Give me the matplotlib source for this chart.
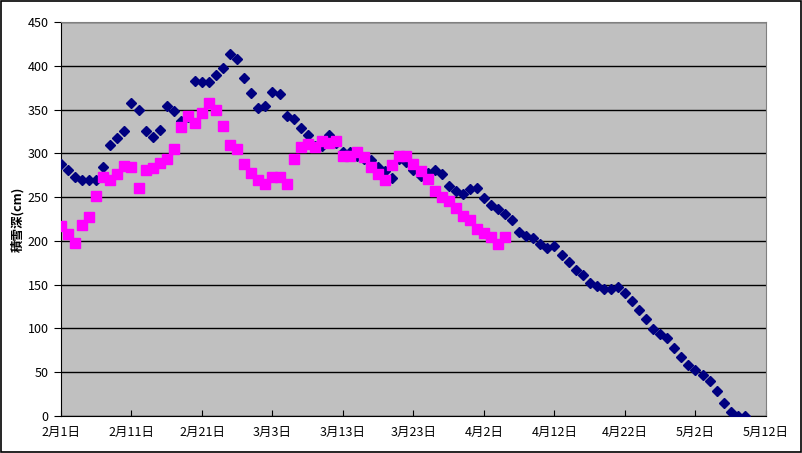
import matplotlib
matplotlib.use("Agg")
import numpy as np
import pandas as pd
from matplotlib import pyplot as plt
from matplotlib.patches import Rectangle
import matplotlib.dates as mdates
from matplotlib.ticker import FuncFormatter, MultipleLocator

plt.rcParams['font.family'] = ['Noto Sans CJK JP', 'DejaVu Sans']

# Data: snow depth (cm), daily from Feb 1
start = pd.Timestamp('2006-02-01')
navy_vals = [288, 281, 273, 270, 270, 269, 284, 310, 318, 326,
             357, 350, 325, 319, 327, 354, 348, 337, 342, 383,
             382, 381, 390, 397, 414, 408, 386, 369, 352, 354,
             370, 368, 343, 339, 329, 321, 308, 308, 321, 312,
             301, 302, 297, 294, 292, 284, 280, 272, 293, 290,
             281, 274, 277, 281, 276, 263, 257, 254, 259, 260,
             249, 241, 236, 231, 224, 210, 206, 203, 196, 192,
             194, 184, 176, 167, 161, 152, 148, 145, 145, 147,
             141, 131, 121, 111, 99, 94, 89, 78, 67, 58,
             52, 47, 40, 28, 15, 4, 0, 0]
pink_vals = [217, 208, 198, 218, 227, 251, 273, 270, 276, 286,
             284, 260, 281, 283, 289, 294, 305, 330, 343, 335,
             346, 357, 349, 331, 310, 305, 288, 278, 270, 265,
             273, 273, 265, 293, 307, 311, 307, 314, 312, 314,
             297, 297, 302, 296, 284, 276, 270, 287, 297, 297,
             288, 280, 271, 257, 250, 245, 238, 228, 224, 214,
             209, 205, 197, 205]
navy_dates = pd.date_range(start, periods=len(navy_vals), freq='D')
pink_dates = pd.date_range(start, periods=len(pink_vals), freq='D')
end = start + pd.Timedelta(days=100)

fig = plt.figure(figsize=(8.03, 4.53), dpi=100)
ax = fig.add_axes([61/803, 1-416/453, 705/803, 394/453])
ax.set_facecolor('#C0C0C0')

ax.plot(navy_dates, navy_vals, linestyle='none', marker='D', markersize=4.8,
        color='#000080', zorder=3)
ax.plot(pink_dates, pink_vals, linestyle='none', marker='s', markersize=6.5,
        color='#FF00FF', zorder=4)

ax.set_xlim(start, end)
ax.set_ylim(0, 450)
ax.yaxis.set_major_locator(MultipleLocator(50))
ax.grid(axis='y', color='black', linewidth=1)
ax.set_axisbelow(True)

ticks = pd.date_range(start, end, freq='10D')
ax.set_xticks(ticks)
ax.xaxis.set_major_formatter(FuncFormatter(
    lambda v, p: f"{mdates.num2date(v).month}月{mdates.num2date(v).day}日"))
ax.tick_params(axis='x', direction='in', length=4, labelsize=9, pad=7)
ax.tick_params(axis='y', direction='out', length=5, labelsize=9, pad=4)

for s in ['left', 'bottom']:
    ax.spines[s].set_color('black')
for s in ['top', 'right']:
    ax.spines[s].set_color('#808080')

fig.text(18/803, 1-219/453, '積雪深(cm)', rotation=90, fontsize=9,
         fontweight='bold', ha='center', va='center')

# figure border
fig.patches.append(Rectangle((0.001, 0.002), 0.997, 0.996, transform=fig.transFigure,
                             fill=False, edgecolor='black', linewidth=1.2))

fig.savefig('out.png', dpi=100)
